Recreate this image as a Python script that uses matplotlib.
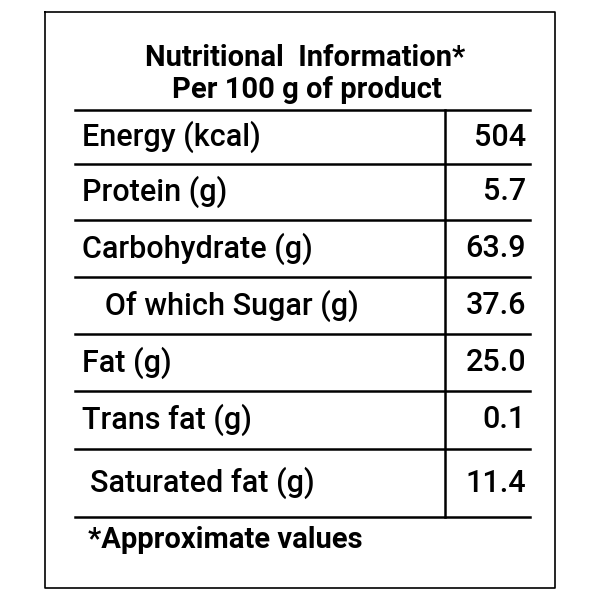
import matplotlib
matplotlib.use("Agg")
import matplotlib.pyplot as plt

title1 = "Nutritional  Information*"
title2 = "Per 100 g of product"
labels = ["Energy (kcal)", "Protein (g)", "Carbohydrate (g)", "   Of which Sugar (g)",
          "Fat (g)", "Trans fat (g)", "Saturated fat (g)"]
values = ["504", "5.7", "63.9", "37.6", "25.0", "0.1", "11.4"]
footer = "*Approximate values"

fam = ["Roboto", "DejaVu Sans"]
fig = plt.figure(figsize=(6, 6), dpi=100)
ax = fig.add_axes([0, 0, 1, 1])
ax.set_xlim(0, 600); ax.set_ylim(600, 0); ax.axis("off")

ax.plot([45, 555, 555, 45, 45], [12, 12, 588, 588, 12], color="black", lw=1.2)
ax.text(305, 58, title1, ha="center", va="center", fontsize=21, fontweight="bold", family=fam)
ax.text(307, 90, title2, ha="center", va="center", fontsize=21, fontweight="bold", family=fam)

lines = [110, 164, 220, 277, 334, 391, 449, 517]
for y in lines:
    ax.plot([75, 530], [y, y], color="black", lw=1.8)
ax.plot([445, 445], [lines[0], lines[-1]], color="black", lw=1.8)
for i, (lab, val) in enumerate(zip(labels, values)):
    yc = (lines[i] + lines[i + 1]) / 2
    x0 = 90 if i == len(labels) - 1 else 82
    ax.text(x0, yc, lab, ha="left", va="center", fontsize=22, fontweight="medium", family=fam)
    ax.text(526, yc, val, ha="right", va="center", fontsize=22, fontweight="medium", family=fam)
ax.text(88, 540, footer, ha="left", va="center", fontsize=21, fontweight="bold", family=fam)
fig.savefig("out.png", dpi=100)
